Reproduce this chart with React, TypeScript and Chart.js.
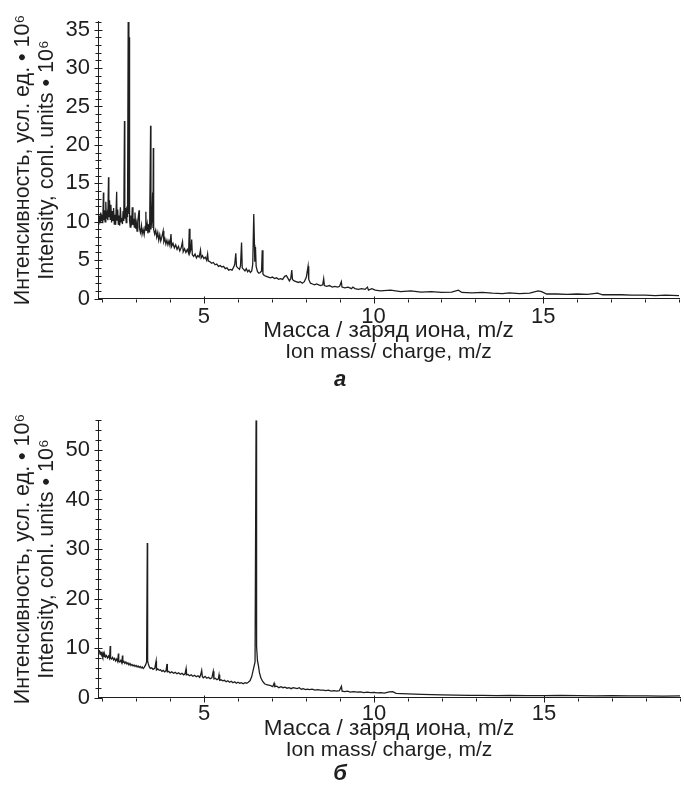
import React, { useEffect, useRef } from "react";
import { Chart, registerables } from "chart.js";

Chart.register(...registerables);

const FONT = "'Liberation Sans', Arial, Helvetica, sans-serif";
const INK = "#1e1e1e";

// ---- text ----
const xTitleRu = "Масса / заряд иона, m/z";
const xTitleEn = "Ion mass/ charge, m/z";
const yTitleRu = "Интенсивность, усл. ед. • 10⁶";
const yTitleEn = "Intensity, conl. units • 10⁶";
const panelLetters = ["а", "б"];

// ---- axes ----
const xMin = 1.88;
const xMax = 19;
const xMajorStep = 5;
const xMinorStep = 1;
const yMaxA = 36.1;
const yMajorStepA = 5;
const yMinorStepA = 1;
const yMaxB = 56;
const yMajorStepB = 10;
const yMinorStepB = 2;

// ---- data: [m/z, intensity ×10^6] ----
const spectrumA: [number, number][] = [
  [1.9, 9.6], [1.92, 10.8], [1.94, 9.9], [1.96, 11.2], [1.98, 10.1], [2.0, 10.9], [2.02, 9.8],
  [2.04, 13.8], [2.05, 10.2], [2.07, 11.5], [2.09, 10.0], [2.11, 12.6], [2.13, 10.4], [2.15, 11.0],
  [2.17, 10.2], [2.19, 15.8], [2.2, 10.6], [2.22, 12.8], [2.24, 10.3], [2.26, 12.2], [2.28, 9.9],
  [2.3, 11.4], [2.32, 10.1], [2.34, 11.8], [2.36, 9.7], [2.38, 10.9], [2.4, 9.6], [2.43, 13.9],
  [2.44, 10.2], [2.46, 11.6], [2.48, 9.6], [2.5, 10.8], [2.52, 9.5], [2.54, 11.9], [2.56, 10.0],
  [2.58, 10.5], [2.6, 9.7], [2.62, 11.4], [2.64, 10.1], [2.66, 23.1], [2.67, 10.4], [2.69, 11.8],
  [2.71, 9.9], [2.73, 12.0], [2.75, 10.6], [2.77, 36.0], [2.79, 11.0], [2.8, 34.0], [2.81, 10.2],
  [2.83, 9.3], [2.85, 10.8], [2.87, 9.5], [2.89, 11.9], [2.91, 9.6], [2.93, 10.4], [2.95, 9.3],
  [2.97, 11.2], [2.99, 9.1], [3.01, 9.8], [3.03, 8.8], [3.05, 10.0], [3.09, 11.5], [3.1, 9.2],
  [3.13, 8.6], [3.16, 9.5], [3.18, 8.4], [3.21, 9.0], [3.24, 8.3], [3.27, 9.4], [3.29, 11.3],
  [3.3, 8.8], [3.33, 9.7], [3.35, 8.5], [3.38, 9.3], [3.4, 8.6], [3.43, 22.5], [3.44, 9.0],
  [3.47, 10.5], [3.49, 13.8], [3.5, 9.2], [3.51, 19.6], [3.52, 9.0], [3.55, 8.4], [3.58, 8.9],
  [3.61, 8.0], [3.64, 8.6], [3.67, 7.6], [3.7, 8.3], [3.73, 7.5], [3.76, 8.0], [3.8, 8.8],
  [3.82, 7.4], [3.85, 7.8], [3.88, 7.1], [3.91, 7.6], [3.94, 7.0], [3.97, 7.5], [4.0, 6.9],
  [4.03, 8.4], [4.05, 6.8], [4.09, 7.2], [4.13, 6.6], [4.17, 7.0], [4.21, 6.4], [4.25, 6.8],
  [4.29, 6.2], [4.33, 6.6], [4.37, 7.4], [4.39, 6.1], [4.43, 6.5], [4.47, 6.0], [4.51, 6.4],
  [4.55, 5.9], [4.57, 9.1], [4.59, 6.0], [4.62, 6.4], [4.64, 7.7], [4.66, 5.7], [4.7, 5.5],
  [4.74, 5.8], [4.78, 5.3], [4.82, 5.6], [4.86, 5.4], [4.9, 6.3], [4.92, 5.3], [4.96, 5.6],
  [5.0, 5.2], [5.04, 5.4], [5.08, 5.0], [5.11, 5.8], [5.13, 4.9], [5.18, 4.8], [5.23, 4.6],
  [5.28, 4.7], [5.33, 4.4], [5.38, 4.5], [5.43, 4.2], [5.48, 4.3], [5.53, 4.1], [5.58, 4.2],
  [5.63, 3.9], [5.68, 4.0], [5.73, 3.7], [5.78, 3.8], [5.83, 3.7], [5.88, 4.1], [5.91, 4.5],
  [5.94, 5.9], [5.96, 4.2], [6.0, 4.0], [6.05, 3.8], [6.08, 4.3], [6.11, 7.3], [6.13, 4.0],
  [6.17, 3.8], [6.21, 3.6], [6.25, 3.9], [6.29, 3.5], [6.33, 3.7], [6.37, 3.4], [6.41, 3.6],
  [6.44, 4.5], [6.47, 11.0], [6.49, 7.0], [6.5, 4.8], [6.52, 6.7], [6.54, 4.2], [6.58, 3.5],
  [6.62, 3.3], [6.66, 3.4], [6.7, 3.6], [6.72, 6.3], [6.74, 3.2], [6.78, 3.0], [6.84, 2.9],
  [6.9, 2.8], [6.96, 2.7], [7.02, 2.8], [7.08, 2.6], [7.14, 2.7], [7.2, 2.5], [7.26, 2.6],
  [7.32, 2.5], [7.38, 2.9], [7.43, 3.0], [7.47, 2.7], [7.52, 2.3], [7.56, 2.6], [7.59, 3.7],
  [7.61, 2.5], [7.66, 2.3], [7.72, 2.2], [7.78, 2.1], [7.84, 2.2], [7.9, 2.0], [7.96, 2.2],
  [8.02, 2.8], [8.07, 4.2], [8.09, 2.5], [8.14, 2.0], [8.2, 1.9], [8.26, 1.8], [8.32, 1.9],
  [8.38, 1.8], [8.44, 1.7], [8.5, 1.8], [8.53, 2.6], [8.55, 1.7], [8.62, 1.6], [8.7, 1.7],
  [8.78, 1.5], [8.86, 1.6], [8.94, 1.5], [9.0, 1.6], [9.05, 2.2], [9.07, 1.5], [9.15, 1.4],
  [9.25, 1.5], [9.35, 1.3], [9.39, 1.5], [9.45, 1.3], [9.55, 1.2], [9.65, 1.3], [9.75, 1.2],
  [9.82, 1.5], [9.85, 1.1], [9.95, 1.3], [10.05, 1.1], [10.2, 1.0], [10.5, 1.1], [10.8, 0.9],
  [11.1, 1.0], [11.4, 0.85], [11.7, 0.9], [12.0, 0.8], [12.3, 0.85], [12.5, 1.1], [12.6, 0.8],
  [12.9, 0.75], [13.2, 0.8], [13.5, 0.7], [13.8, 0.65], [14.0, 0.75], [14.3, 0.65], [14.6, 0.7],
  [14.85, 1.0], [14.95, 0.9], [15.1, 0.6], [15.4, 0.6], [15.7, 0.55], [16.0, 0.6], [16.3, 0.55],
  [16.6, 0.7], [16.75, 0.5], [17.0, 0.5], [17.3, 0.5], [17.6, 0.45], [18.0, 0.45], [18.3, 0.4],
  [18.6, 0.45], [19.0, 0.4],
];

const spectrumB: [number, number][] = [
  [1.92, 9.6], [1.94, 8.8], [1.96, 9.3], [1.98, 8.6], [2.0, 9.0], [2.02, 8.4], [2.04, 8.9],
  [2.06, 8.3], [2.08, 8.7], [2.1, 8.2], [2.13, 8.5], [2.16, 8.0], [2.19, 8.4], [2.22, 7.9],
  [2.24, 10.4], [2.25, 8.0], [2.28, 7.8], [2.31, 8.1], [2.34, 7.6], [2.37, 7.9], [2.4, 7.4],
  [2.43, 7.8], [2.46, 7.3], [2.48, 8.9], [2.49, 7.4], [2.52, 7.2], [2.55, 7.5], [2.58, 7.0],
  [2.6, 8.5], [2.61, 7.1], [2.64, 7.3], [2.67, 6.9], [2.7, 7.2], [2.73, 6.8], [2.76, 7.0],
  [2.79, 6.6], [2.82, 6.9], [2.85, 6.5], [2.88, 6.7], [2.91, 6.4], [2.94, 6.6], [2.97, 6.3],
  [3.0, 6.5], [3.03, 6.2], [3.06, 6.4], [3.09, 6.1], [3.12, 6.3], [3.15, 6.0], [3.18, 6.2],
  [3.21, 5.9], [3.24, 6.1], [3.28, 6.6], [3.31, 7.2], [3.33, 31.2], [3.34, 7.4], [3.36, 6.8],
  [3.39, 6.2], [3.42, 5.9], [3.46, 6.0], [3.5, 5.7], [3.55, 5.9], [3.59, 7.4], [3.6, 5.6],
  [3.64, 5.8], [3.68, 5.5], [3.72, 5.6], [3.76, 5.3], [3.8, 5.5], [3.84, 5.2], [3.88, 5.4],
  [3.91, 6.8], [3.92, 5.2], [3.96, 5.3], [4.0, 5.0], [4.05, 5.2], [4.1, 4.9], [4.15, 5.1],
  [4.2, 4.8], [4.25, 5.0], [4.3, 4.7], [4.35, 4.9], [4.4, 4.6], [4.44, 4.8], [4.47, 5.8],
  [4.48, 4.6], [4.52, 4.7], [4.57, 4.4], [4.62, 4.6], [4.67, 4.3], [4.72, 4.5], [4.77, 4.2],
  [4.82, 4.4], [4.87, 4.1], [4.9, 4.6], [4.93, 5.5], [4.95, 4.2], [4.98, 4.0], [5.03, 4.3],
  [5.08, 3.9], [5.13, 4.1], [5.18, 3.8], [5.23, 4.0], [5.27, 5.3], [5.29, 3.8], [5.33, 3.9],
  [5.38, 3.6], [5.42, 3.8], [5.44, 4.6], [5.46, 3.5], [5.5, 3.6], [5.55, 3.4], [5.6, 3.5],
  [5.65, 3.2], [5.7, 3.4], [5.75, 3.1], [5.8, 3.3], [5.85, 3.0], [5.9, 3.2], [5.95, 2.9],
  [6.0, 3.1], [6.05, 2.9], [6.1, 3.0], [6.15, 2.8], [6.2, 3.0], [6.25, 2.9], [6.3, 3.1],
  [6.35, 3.4], [6.4, 4.2], [6.44, 5.4], [6.47, 6.3], [6.5, 7.2], [6.53, 56.0], [6.54, 43.0],
  [6.55, 10.3], [6.57, 7.5], [6.6, 6.4], [6.63, 5.0], [6.67, 4.0], [6.72, 3.3], [6.78, 2.8],
  [6.84, 2.6], [6.9, 2.5], [6.96, 2.4], [7.02, 2.2], [7.06, 2.9], [7.08, 2.2], [7.14, 2.3],
  [7.2, 2.0], [7.26, 2.2], [7.32, 2.0], [7.38, 2.1], [7.44, 1.9], [7.5, 2.0], [7.56, 1.8],
  [7.62, 2.0], [7.68, 1.9], [7.74, 1.8], [7.8, 2.0], [7.86, 1.7], [7.92, 1.8], [7.98, 1.6],
  [8.04, 1.7], [8.1, 1.6], [8.18, 1.7], [8.26, 1.5], [8.34, 1.6], [8.42, 1.5], [8.5, 1.5],
  [8.58, 1.4], [8.66, 1.5], [8.74, 1.3], [8.82, 1.4], [8.9, 1.3], [8.98, 1.4], [9.04, 2.3],
  [9.06, 1.3], [9.14, 1.2], [9.22, 1.3], [9.3, 1.1], [9.4, 1.2], [9.5, 1.1], [9.6, 1.15],
  [9.7, 1.0], [9.8, 1.1], [9.9, 1.0], [10.0, 1.05], [10.1, 0.95], [10.2, 1.0], [10.3, 0.9],
  [10.45, 1.15], [10.55, 1.2], [10.65, 0.85], [10.8, 0.8], [11.0, 0.75], [11.2, 0.7],
  [11.4, 0.65], [11.7, 0.6], [12.0, 0.55], [12.4, 0.5], [12.8, 0.45], [13.2, 0.45], [13.6, 0.4],
  [14.0, 0.45], [14.5, 0.4], [15.0, 0.4], [15.5, 0.45], [16.0, 0.4], [16.5, 0.35], [17.0, 0.4],
  [17.5, 0.35], [18.0, 0.35], [18.5, 0.3], [19.0, 0.35],
];

// ---- tick marks crossing the axes (major + minor), drawn from the scales ----
const tickMarks = {
  id: "tickMarks",
  afterDraw(chart: any, _args: any, opts: any) {
    const { ctx, chartArea } = chart;
    const xs = chart.scales.x;
    const ys = chart.scales.y;
    ctx.save();
    ctx.strokeStyle = INK;
    ctx.lineWidth = 1;
    ctx.beginPath();
    const axisY = Math.round(chartArea.bottom) + 0.5;
    for (const t of xs.ticks) {
      const px = Math.round(xs.getPixelForValue(t.value)) + 0.5;
      const major = Math.abs(t.value % opts.xMajor) < 1e-9;
      ctx.moveTo(px, major ? axisY - 3 : axisY);
      ctx.lineTo(px, major ? axisY + 4 : axisY + 3);
    }
    const axisX = Math.round(chartArea.left) + 0.5;
    for (const t of ys.ticks) {
      const py = Math.round(ys.getPixelForValue(t.value)) + 0.5;
      const major = Math.abs(t.value % opts.yMajor) < 1e-9;
      ctx.moveTo(major ? axisX - 4 : axisX - 3, py);
      ctx.lineTo(major ? axisX + 4 : axisX + 3, py);
    }
    ctx.stroke();
    ctx.restore();
  },
};

type PanelProps = {
  data: [number, number][];
  yMax: number;
  yMajor: number;
  yMinor: number;
  letter: string;
  height: number;
  padTop: number;
  xAxisHeight: number;
  letterPadTop: number;
  xTickPad: number;
};

function Panel({ data, yMax, yMajor, yMinor, letter, height, padTop, xAxisHeight, letterPadTop, xTickPad }: PanelProps) {
  const ref = useRef<HTMLCanvasElement | null>(null);
  useEffect(() => {
    if (!ref.current) return;
    const chart = new Chart(ref.current, {
      type: "line",
      data: {
        datasets: [
          {
            data: data.map(([x, y]) => ({ x, y })),
            borderColor: INK,
            borderWidth: 1.3,
            pointRadius: 0,
            tension: 0,
            fill: false,
          },
        ],
      },
      options: {
        animation: false,
        responsive: false,
        devicePixelRatio: 1,
        layout: { padding: { top: padTop, right: 4, left: 0, bottom: 0 } },
        plugins: {
          legend: { display: false },
          tooltip: { enabled: false },
          subtitle: {
            display: true,
            position: "bottom",
            fullSize: false,
            text: xTitleEn,
            color: INK,
            font: { family: FONT, size: 21, lineHeight: 1.0 },
            padding: 0,
          },
          title: {
            display: true,
            position: "bottom",
            text: letter,
            color: INK,
            font: { family: FONT, size: 22, weight: "bold", style: "italic", lineHeight: 1.2 },
            padding: { top: letterPadTop, bottom: 2 },
          },
          tickMarks: { xMajor: xMajorStep, yMajor: yMajor },
        } as any,
        scales: {
          x: {
            type: "linear",
            min: xMin,
            max: xMax,
            grid: { display: false, drawTicks: false },
            border: { display: true, color: INK, width: 1 },
            ticks: {
              stepSize: xMinorStep,
              autoSkip: false,
              includeBounds: false,
              maxRotation: 0,
              padding: xTickPad,
              color: INK,
              font: { family: FONT, size: 22 },
              callback: (v: any) => (Math.abs(Number(v) % xMajorStep) < 1e-9 ? String(v) : ""),
            },
            title: {
              display: true,
              text: xTitleRu,
              color: INK,
              font: { family: FONT, size: 22.5, lineHeight: 1.0 },
              padding: { top: 0, bottom: 0 },
            },
            afterFit: (s: any) => {
              s.height = xAxisHeight;
            },
          },
          y: {
            type: "linear",
            min: 0,
            max: yMax,
            grid: { display: false, drawTicks: false },
            border: { display: true, color: INK, width: 1 },
            ticks: {
              stepSize: yMinor,
              autoSkip: false,
              includeBounds: false,
              padding: 8,
              color: INK,
              font: { family: FONT, size: 22 },
              callback: (v: any) => (Math.abs(Number(v) % yMajor) < 1e-9 ? String(v) : ""),
            },
            title: {
              display: true,
              text: [yTitleRu, yTitleEn],
              color: INK,
              font: { family: FONT, size: 21.5, lineHeight: 1.12 },
              padding: { top: 11, bottom: 0 },
            },
            afterFit: (s: any) => {
              s.width = 98;
            },
          },
        },
      } as any,
      plugins: [tickMarks],
    });
    return () => chart.destroy();
  }, [data, yMax, yMajor, yMinor, letter, height, padTop, xAxisHeight, letterPadTop, xTickPad]);
  return <canvas ref={ref} width={684} height={height} style={{ display: "block" }} />;
}

export default function App() {
  return (
    <div style={{ position: "absolute", left: 0, top: 0, width: 684, height: 800, background: "#fff" }}>
      <div style={{ position: "absolute", left: 0, top: 0 }}>
        <Panel
          data={spectrumA}
          yMax={yMaxA}
          yMajor={yMajorStepA}
          yMinor={yMinorStepA}
          letter={panelLetters[0]}
          height={395}
          padTop={8}
          xAxisHeight={43}
          letterPadTop={4}
          xTickPad={5}
        />
      </div>
      <div style={{ position: "absolute", left: 0, top: 399 }}>
        <Panel
          data={spectrumB}
          yMax={yMaxB}
          yMajor={yMajorStepB}
          yMinor={yMinorStepB}
          letter={panelLetters[1]}
          height={390}
          padTop={14}
          xAxisHeight={42}
          letterPadTop={0}
          xTickPad={3}
        />
      </div>
    </div>
  );
}
